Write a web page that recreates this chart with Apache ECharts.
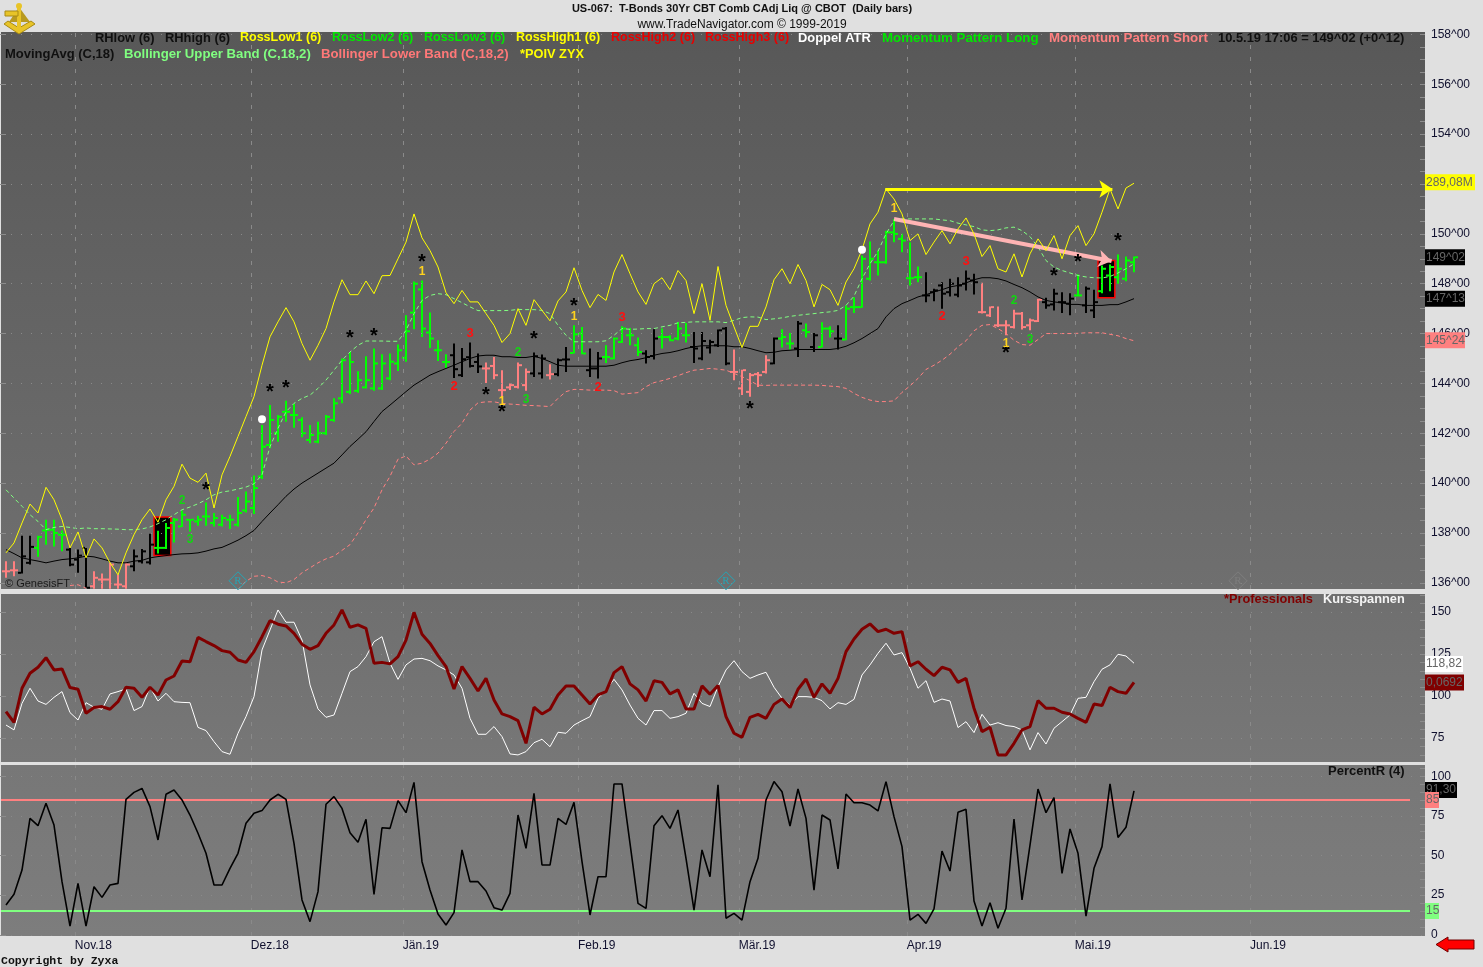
<!DOCTYPE html>
<html><head><meta charset="utf-8"><title>US-067</title>
<style>html,body{margin:0;padding:0;background:#e0e0e0;overflow:hidden}#c{width:1483px;height:967px}</style>
<script src="https://cdn.jsdelivr.net/npm/echarts@6/dist/echarts.min.js"></script></head><body><div id="c"></div>
<script>
const monthLabels=['Nov.18','Dez.18','Jän.19','Feb.19','Mär.19','Apr.19','Mai.19','Jun.19'];
const monthIdx=[8.6,30.6,49.6,71.5,91.6,112.6,133.6,155.5];
const barOpen=[136.46,136.5,136.4,136.8,137.4,138.1,138.13,137.93,137.33,136.93,
137.4,135.86,136.13,136.13,135.93,135.86,136.66,136.86,136.82,137.4,
137.4,138.4,138.26,138.53,138.46,138.66,138.4,138.33,138.53,138.33,
138.9,139.0,140.26,141.53,142.0,142.86,142.73,142.53,141.73,141.66,
142.0,142.53,143.4,143.66,143.7,143.84,143.8,143.8,144.2,144.8,
145.03,146.84,147.77,146.04,145.33,144.86,145.13,144.33,145.05,144.86,
144.6,144.7,143.73,143.84,143.86,143.93,144.4,144.4,144.33,144.37,
144.96,145.22,146.0,144.53,144.6,145.06,145.0,145.66,145.93,145.53,
145.2,145.1,145.86,145.86,145.8,145.93,145.46,145.0,145.44,145.53,
146.2,144.46,143.8,143.66,144.37,144.46,144.8,145.8,145.6,145.4,
146.13,145.46,145.46,146.2,145.8,145.76,147.06,147.06,148.2,148.86,
148.86,150.06,149.8,148.22,148.26,147.53,147.66,147.93,147.66,147.56,
148,148.13,146.86,146.73,146.33,146.33,146.26,146.8,146.33,146.5,
147.26,147.17,147.26,147.2,147.53,147.13,146.93,147.7,148.33,148.26,148.2,148.86];
const barHigh=[136.86,136.86,137.89,137.89,137.89,138.53,138.53,138.1,137.4,137.33,
137.4,136.46,136.37,136.8,136.33,136.8,137.33,137.36,137.97,138.09,
138.4,138.6,138.9,138.56,138.69,139.22,138.8,138.73,138.73,139.44,
139.66,140.3,142.33,143.13,142.73,143.3,143.17,142.64,142.33,142.46,
142.73,143.4,145.0,145.26,144.49,145.09,145.4,145.17,145.2,145.56,
146.73,148.09,148.13,146.84,145.73,145.17,145.6,145.42,145.64,145.2,
144.84,145.06,144.53,144.0,144.84,144.6,145.24,145.16,144.77,145.0,
145.46,146.33,146.26,145.4,145.26,145.53,145.84,146.29,146.22,145.84,
145.33,146.17,146.2,145.93,146.46,146.42,146.06,146.06,145.75,146.16,
146.26,145.36,144.55,144.42,144.46,145.13,145.84,146.17,146.02,146.5,
146.4,146.02,146.45,146.29,146.33,147.13,147.46,149.13,149.69,149.33,
150.13,150.6,150,149.66,148.69,148.46,147.8,148.06,148.2,148.26,
148.53,148.4,148.04,147.09,147.09,146.53,146.96,146.86,146.6,147.4,
147.44,147.8,147.66,147.62,148.37,147.89,147.76,148.73,148.77,149.17,149.09,149.09];
const barLow=[136.2,136.26,136.37,136.73,137.04,137.53,137.46,137.26,136.66,136.4,
135.8,135.76,135.76,135.76,135.76,135.76,136.46,136.77,136.73,137.17,
137.36,137.62,138.24,138.06,138.29,138.29,138.26,138.26,138.16,138.26,
138.82,138.76,140.16,141.4,141.66,142.46,142.22,141.84,141.6,141.6,
141.93,142.46,143.2,143.57,143.62,143.8,143.7,143.73,144.13,144.5,
144.87,146.17,145.86,145.42,144.9,144.62,144.22,144.26,144.64,144.42,
144.02,144.17,143.4,143.73,143.8,143.7,144.26,144.2,144.16,144.29,
144.46,145.2,145.17,144.26,144.2,144.82,144.97,145.62,145.53,145.1,
144.8,144.96,145.4,145.69,145.73,145.64,144.82,144.93,145.2,145.46,
144.73,144.13,143.53,143.46,143.86,144.4,144.77,145.44,145.36,145.06,
145.84,145.26,145.44,145.84,145.36,145.73,146.82,147.04,148.13,148.33,
148.8,149.66,149.26,147.93,148.06,147.26,147.3,147,147.49,147.46,
147.73,147.57,146.8,146.66,146.26,145.93,146.2,146.16,146.13,146.46,
147.0,146.93,146.82,146.73,147.49,146.82,146.62,147.62,147.7,148,148.1,148.46];
const barClose=[136.46,136.5,137.06,137.44,137.84,138.13,138.0,137.93,136.73,137.09,
135.8,136.2,136.13,136.73,135.93,136.73,137.06,137.26,137.53,137.4,
138.2,138.53,138.73,138.53,138.53,138.66,138.6,138.6,138.53,138.8,
139.26,139.8,141.46,142.53,142.66,142.86,142.73,142.0,141.93,142.0,
142.66,143.2,144.93,144.86,144.13,144.13,144.8,144.8,144.87,145.33,
146.09,148.0,146.2,145.8,145.33,144.86,144.57,144.97,144.7,144.68,
144.6,144.33,143.73,143.93,144.73,144.46,145.09,145.0,144.37,144.93,
144.96,145.97,145.2,144.6,145.0,145.06,145.8,146.2,145.93,145.26,
145.06,145.8,145.86,145.73,146.2,145.93,145.4,145.7,145.66,146.13,
144.8,144.46,144.53,144.33,144.33,144.93,145.8,145.86,145.6,146.4,
146.06,145.93,146.2,146.09,145.8,147.0,147.06,149.0,149.0,148.86,
150.06,150.0,149.73,148.22,148.26,147.53,147.73,147.6,148.0,147.93,
148.2,148.06,146.86,147.06,146.33,146.33,146.8,146.26,146.53,147.36,
147.13,147.6,147.26,147.4,147.53,147.8,147.26,148.6,148.67,148.6,148.93,149.06];
const barKinds=('ppkkggggkkkpppppkkk'+'ggggggggggggggggggggggggggggggggggggg'+'kkkkppppppkkpkkggkkgggggkkggggkkkkkpppppkggkgkggk'+'gggggggggg'+'kkkkkkk'+'pppppppp'+'kkkkgkkggggg').split('');
const poiv=[137.2,137.6,138.4,139.16,138.8,139.83,139.33,138.53,137.4,138.04,
137.0,137.76,137.4,136.8,136.32,137.2,137.93,138.53,138.96,138.43,
139.33,139.87,140.76,140.2,140.03,140.4,139.0,140.33,141.07,141.87,
142.67,143.47,144.73,145.87,146.47,147.04,146.47,145.6,144.93,145.53,
146.2,147.27,148.16,147.56,147.56,148.11,147.6,148.32,148.33,149.0,
149.67,150.8,149.84,149.33,148.67,147.64,147.2,147.73,147.27,147.27,
146.8,146.33,145.64,146.0,147.0,146.33,147.36,146.93,146.51,147.31,
147.67,148.64,147.73,147.04,147.57,147.33,148.47,149.17,148.4,147.67,
147.17,148.0,148.24,147.76,148.53,148.13,146.8,148.0,146.53,148.69,
147.13,146.27,145.44,146.29,146.29,147.07,148.16,148.6,148.0,148.77,
148.13,147.07,147.97,147.76,147.13,148.07,148.6,149.36,150.4,150.87,
151.8,151.4,150.8,149.73,150.0,149.17,149.67,150.13,149.6,150.2,
150.64,150.0,149.09,149.53,148.6,148.47,149.2,148.27,149.2,149.8,
149.33,149.93,149.0,149.93,150.33,149.53,150.0,150.87,151.8,151.0,151.84,152.03];
const movingAvg=[137.33,137.17,137.0,136.93,136.87,136.8,136.87,136.93,136.96,137.0,
137.07,137.04,136.96,136.87,136.8,136.8,136.87,136.9,137.0,137.05,
137.09,137.13,137.16,137.17,137.2,137.27,137.36,137.42,137.56,137.71,
137.89,138.1,138.46,138.8,139.13,139.47,139.76,140.0,140.2,140.4,
140.6,140.8,141.13,141.47,141.76,142.06,142.47,142.87,143.13,143.4,
143.67,143.93,144.13,144.33,144.47,144.6,144.73,144.87,145.0,145.1,
145.13,145.13,145.07,145.07,145.04,145.04,145.09,145.0,144.87,144.73,
144.69,144.69,144.69,144.69,144.69,144.69,144.73,144.83,144.91,144.96,
145.03,145.13,145.2,145.24,145.31,145.4,145.47,145.51,145.51,145.51,
145.51,145.47,145.47,145.4,145.31,145.23,145.25,145.31,145.33,145.36,
145.36,145.36,145.36,145.36,145.4,145.49,145.63,145.8,146.0,146.2,
146.67,147.0,147.2,147.33,147.47,147.56,147.67,147.76,147.87,147.93,
148.03,148.16,148.24,148.24,148.2,148.11,147.97,147.84,147.67,147.47,
147.33,147.27,147.23,147.17,147.17,147.13,147.13,147.13,147.16,147.16,147.27,147.4];
const bollUpper=[139.73,139.4,139.07,138.73,138.46,138.13,138.22,138.26,138.22,138.17,
138.2,138.17,138.17,138.16,138.15,138.13,138.13,138.16,138.24,138.37,
138.53,138.73,138.93,139.04,139.17,139.33,139.53,139.64,139.69,139.76,
139.84,139.97,140.33,141.46,142.2,142.86,143.2,143.4,143.53,143.8,
144.13,144.53,144.93,145.26,145.53,145.7,145.7,145.7,145.69,145.69,
146.13,146.8,147.33,147.53,147.6,147.56,147.4,147.24,147.07,146.92,
146.92,146.92,146.92,146.93,146.97,146.96,146.96,146.93,146.8,146.33,
145.93,145.67,145.67,145.67,145.67,145.71,145.93,146.2,146.17,146.18,
146.2,146.2,146.27,146.33,146.43,146.45,146.47,146.47,146.47,146.47,
146.44,146.53,146.64,146.67,146.66,146.56,146.59,146.63,146.69,146.73,
146.77,146.8,146.84,146.87,146.93,147.13,147.5,148.2,148.8,149.3,
150.0,150.53,150.6,150.6,150.6,150.6,150.6,150.56,150.53,150.43,
150.36,150.29,150.16,150.13,150.16,150.24,150.27,150.13,149.89,149.47,
148.93,148.67,148.53,148.43,148.33,148.27,148.24,148.23,148.29,148.43,148.6,148.8];
const bollLower=[null,null,null,null,null,null,null,null,135.89,135.92,
135.78,null,null,null,null,null,null,null,null,null,
null,null,null,null,null,null,null,null,null,135.73,
136.06,136.26,136.29,136.2,136.03,136.0,136.13,136.4,136.6,136.8,
136.96,137.07,137.3,137.53,138.0,138.53,139.0,139.73,140.27,140.96,
141.09,140.73,140.8,140.96,141.2,141.6,142.07,142.4,142.93,143.22,
143.26,143.26,143.2,143.17,143.15,143.12,143.11,143.09,143.07,143.4,
143.67,143.76,143.75,143.73,143.73,143.73,143.71,143.57,143.6,143.63,
143.87,144.03,144.11,144.2,144.31,144.43,144.53,144.56,144.6,144.57,
144.53,144.4,144.27,144.11,143.93,143.92,143.93,143.93,143.93,143.93,
143.93,143.93,143.92,143.89,143.87,143.8,143.6,143.44,143.33,143.27,
143.27,143.3,143.64,143.9,144.2,144.56,144.73,144.93,145.17,145.47,
145.71,146.11,146.33,146.36,146.2,146.0,145.73,145.56,145.53,145.76,
146.0,146.0,146.0,146.0,146.01,146.03,146.03,146.03,145.97,145.91,145.8,145.71];
const professionals=[90.7,84.3,104.6,113.5,117.1,122.8,115.5,116.1,105.0,104.0,
89.7,93.1,93.7,92.1,96.6,105.2,104.6,99.2,105.2,100.6,
109.5,111.9,120.8,120.4,134.9,132.4,130.0,127.0,126.0,121.4,
120.0,126.4,135.3,144.8,142.7,141.7,137.3,130.8,127.8,130.0,
137.3,142.3,151.2,140.9,142.3,140.3,119.5,120.0,119.1,123.4,
133.3,149.8,136.7,131.3,124.0,117.5,104.2,117.5,110.5,103.0,
110.5,97.6,89.3,87.7,85.3,71.8,93.3,89.3,92.1,100.6,
106.0,106.0,100.6,95.2,100.6,102.6,113.9,117.5,107.2,103.6,
97.0,109.1,108.1,101.2,103.6,92.3,92.3,106.0,101.0,106.2,
87.7,77.8,75.4,87.3,89.1,86.7,95.0,98.2,93.1,104.0,
110.1,99.2,107.2,101.6,110.5,126.4,133.9,139.7,142.9,138.3,
139.7,137.3,138.3,117.9,120.4,115.9,112.1,117.1,115.5,108.1,
110.5,92.7,78.8,81.4,64.9,64.9,71.8,79.8,81.8,97.2,
92.7,92.7,90.3,89.3,86.7,84.3,95.2,94.3,105.2,102.6,101.6,108.1];
const kursspannen=[82.7,79.8,95.6,104.6,97.0,95.0,99.2,102.6,90.1,85.7,
96.0,93.3,92.1,101.2,102.6,104.2,91.3,93.7,105.2,97.0,
101.6,96.6,96.2,96.0,81.3,79.4,72.8,66.9,65.3,77.8,
87.7,99.6,127.4,139.3,151.2,143.9,143.9,133.3,106.6,92.3,
87.3,88.7,101.6,114.5,117.5,123.4,132.3,135.3,119.5,109.9,
118.5,122.0,122.4,121.0,117.9,115.5,112.5,104.6,86.7,77.2,
77.2,81.8,75.8,65.5,64.9,66.9,72.2,74.2,69.8,78.4,
77.8,82.7,85.3,87.7,98.6,103.6,109.9,103.6,94.6,86.7,
82.7,91.3,91.3,86.7,87.7,89.7,101.6,95.6,93.7,105.6,
115.5,121.0,114.5,110.5,112.5,114.1,105.2,98.6,94.6,99.6,
99.6,99.2,97.2,92.3,96.0,95.0,98.0,112.5,118.5,125.4,
131.4,124.4,125.8,116.5,104.6,109.1,96.2,98.2,97.0,81.2,
84.7,78.2,89.1,82.7,84.1,82.4,81.8,79.8,67.9,78.2,
71.4,80.8,84.7,88.7,98.6,99.2,108.5,115.9,118.5,124.8,123.8,119.5];
const percentR=[18.8,25.5,40.8,73.4,68.8,82.9,69.2,33.5,5.5,32.4,
5.5,30.3,23.6,31.4,32.4,85.4,89.8,92.3,80.8,59.8,
88.6,91.3,85.0,75.5,64.0,51.4,31.4,31.4,41.9,51.4,
70.3,76.6,78.3,85.0,88.6,85.4,57.7,22.0,8.3,27.2,
82.3,87.1,79.7,64.4,58.3,72.8,25.5,67.5,67.1,84.6,
77.0,96.1,46.1,28.2,13.1,6.2,14.0,53.5,33.5,33.5,
27.6,17.1,15.6,26.1,75.5,54.5,89.2,44.0,44.0,73.4,
69.6,83.5,46.1,12.5,36.6,36.6,95.1,95.1,57.7,19.8,
16.7,68.8,75.1,67.1,78.7,48.2,15.6,53.5,36.6,94.5,
10.4,13.5,9.3,33.5,48.2,85.0,96.6,90.2,68.6,91.9,
73.4,28.2,75.5,72.4,41.5,88.8,83.3,83.3,81.8,78.1,
96.6,74.5,55.6,9.3,12.9,7.2,16.3,52.8,40.2,77.2,
79.1,21.3,5.5,20.2,4.1,16.7,73.0,22.0,56.6,91.9,
77.0,86.5,38.7,66.7,51.4,11.8,41.9,55.6,95.1,61.4,67.8,90.7];
const stars=[[25,139.87],[33,143.8],[35,143.96],[43,145.96],[46,146.06],[52,149.0],[60,143.66],[62,143.0],[66,145.92],[71,147.24],[93,143.11],[125,145.36],[131,148.47],[134,149.0],[139,149.84]];
const yellowOnes=[[52,148.47],[71,146.69],[111,151.0],[125,145.6],[62,143.27]];
const greenTwos=[[22,139.29],[64,145.23],[126,147.33]];
const greenThrees=[[23,137.73],[65,143.36],[128,145.77]];
const redTwos=[[56,143.89],[74,143.84],[117,146.67]];
const redThrees=[[58,146.02],[77,146.64],[120,148.89]];
const whiteDots=[[32,142.56],[107,149.36]];
const signalBoxes=[[18.5,20.6,138.64,137.09],[136.5,138.6,148.93,147.44]];
const rMarkers=[[29,136.08,'#25a5b5'],[90,136.08,'#25a5b5'],[154,136.08,'#7e7e7e']];
const yellowArrow=[[109.9,151.8],[138.3,151.8]];
const pinkArrow=[[111,150.6],[138.2,148.91]];
const levelEnd=175.5;
const priceTicks=[136,138,140,142,144,146,148,150,152,154,156,158];
const priceMinor=[];for(let k=136;k<=158;k+=0.5)priceMinor.push(k);
const profTicks=[75,100,125,150];
const profMinor=[65,70,75,80,85,90,95,100,105,110,115,120,125,130,135,140,145,150,155,160];
const pctTicks=[0,25,50,75,100];
const pctMinor=[5,10,15,20,25,30,35,40,45,50,55,60,65,70,75,80,85,90,95,100,105];
const topTags=[[152.07,'289,08M','#ffff00',50],[149.06,'149^02','#000000',40],[147.4,'147^13','#000000',40],[145.73,'145^24','#ff8080',40]];
const midTags=[[119,'118,82','#ffffff',38],[108,'0,0692','#800000',39]];
const lowTags=[[91.3,'91,30','#000000',32],[85,'85','#ff8080',14],[15,'15','#80ff80',14]];

const FONT='"Liberation Sans",Arial,sans-serif';
const LBL='#10102e';
const xMin=-0.625,xMax=177.375;
const grad=(a,b)=>new echarts.graphic.LinearGradient(0,0,0,1,[{offset:0,color:a},{offset:1,color:b}]);
const pts=a=>a.map((v,i)=>[i,v]);
const fmtPrice=v=>Math.round(v)+'^00';
const kindColor={g:'#00ff00',k:'#000000',p:'#ff8080'};

const grids=[
 {left:1,width:1424,top:32,height:557,show:true,borderWidth:0,backgroundColor:grad('#585858','#6f6f6f')},
 {left:1,width:1424,top:594,height:168,show:true,borderWidth:0,backgroundColor:grad('#6f6f6f','#777777')},
 {left:1,width:1424,top:765,height:171,show:true,borderWidth:0,backgroundColor:grad('#777777','#7d7d7d')}
];
const xAxes=[0,1,2].map(g=>({gridIndex:g,type:'value',min:xMin,max:xMax,show:g===2,
  axisLine:{show:false},axisTick:{show:false},splitLine:{show:false},
  axisLabel:{show:g===2,customValues:monthIdx,align:'left',margin:4,color:LBL,fontSize:12,fontFamily:FONT,hideOverlap:false,
    formatter:v=>{const k=monthIdx.indexOf(v);return k>=0?monthLabels[k]:''}}}));
function yPair(g,min,max,majors,minors,fmt){
  const base={gridIndex:g,type:'value',min,max,position:'right',axisLine:{show:false},splitLine:{show:false}};
  return [
   {...base,axisTick:{show:true,inside:true,length:10,customValues:majors,lineStyle:{color:'#8c8c8c'}},
    axisLabel:{show:true,customValues:majors,margin:6,color:LBL,fontSize:12,fontFamily:FONT,formatter:fmt,showMinLabel:true,showMaxLabel:true,hideOverlap:false}},
   {...base,axisTick:{show:true,inside:true,length:5,customValues:minors,lineStyle:{color:'#8c8c8c'}},axisLabel:{show:false}}
  ];
}
const yAxes=[...yPair(0,135.75,158.1,priceTicks,priceMinor,fmtPrice),
 ...yPair(1,60.7,160.7,profTicks,profMinor,v=>String(v)),
 ...yPair(2,-0.76,107.06,pctTicks,pctMinor,v=>String(v))];

function gridLines(g,yIdx,ticks,min){
  return {type:'line',xAxisIndex:g,yAxisIndex:yIdx,data:[[0,min]],symbol:'none',silent:true,z:1,lineStyle:{opacity:0},
   markLine:{silent:true,animation:false,symbol:'none',label:{show:false},precision:4,
    data:[...ticks.map(v=>({yAxis:v,lineStyle:{color:'#8a8a8a',type:[1,9],width:1}})),
          ...monthIdx.map(v=>({xAxis:v,lineStyle:{color:'#8a8a8a',type:[4,8],width:1}}))]}};
}
function textMarks(data,text,color,size,off){
  return {type:'scatter',xAxisIndex:0,yAxisIndex:0,data,symbol:'circle',symbolSize:1,z:8,silent:true,
    itemStyle:{color:'transparent',opacity:1},label:{show:true,position:'inside',formatter:text,color,opacity:1,textBorderWidth:0,fontFamily:FONT,fontWeight:'bold',fontSize:size,offset:off||[0,0]}};
}
function tagSeries(list,xi,yi){
  return {type:'custom',xAxisIndex:xi,yAxisIndex:yi,z:20,silent:true,data:list.map(t=>[xMax,t[0]]),encode:{x:0,y:1},
   renderItem(params,api){
     const t=list[params.dataIndex],p=api.coord([api.value(0),api.value(1)]);
     return {type:'group',children:[
       {type:'rect',shape:{x:p[0],y:p[1]-8,width:t[3],height:16},style:{fill:t[2]}},
       {type:'text',style:{text:t[1],x:p[0]+1,y:p[1],fill:'#666666',font:'12px '+FONT,verticalAlign:'middle',align:'left'}}]};
   }};
}
const series=[
 gridLines(0,0,priceTicks,136),gridLines(1,2,profTicks,100),gridLines(2,4,pctTicks,50),
 {type:'custom',xAxisIndex:0,yAxisIndex:0,z:2,silent:true,data:signalBoxes,encode:{x:[0,1],y:[2,3]},
  renderItem(p,api){
    const a=api.coord([api.value(0),api.value(2)]),b=api.coord([api.value(1),api.value(3)]);
    return {type:'rect',shape:{x:a[0],y:a[1],width:b[0]-a[0],height:b[1]-a[1]},style:{fill:'#000',stroke:'#ff0000',lineWidth:1.5}};
  }},
 {type:'custom',xAxisIndex:0,yAxisIndex:0,z:3,silent:true,clip:true,
  data:barOpen.map((o,i)=>[i,o,barHigh[i],barLow[i],barClose[i]]),encode:{x:0,y:[1,2,3,4]},
  renderItem(p,api){
    const i=api.value(0),col=kindColor[barKinds[p.dataIndex]];
    const x=Math.round(api.coord([i,0])[0]),o=api.coord([i,api.value(1)])[1],h=api.coord([i,api.value(2)])[1],
      l=api.coord([i,api.value(3)])[1],c=api.coord([i,api.value(4)])[1];
    return {type:'group',children:[
      {type:'rect',shape:{x:x-1,y:h,width:2,height:l-h},style:{fill:col}},
      {type:'rect',shape:{x:x-4,y:o-1,width:3,height:2},style:{fill:col}},
      {type:'rect',shape:{x:x+1,y:c-1,width:3,height:2},style:{fill:col}}]};
  }},
 {type:'line',name:'Bollinger Upper Band',xAxisIndex:0,yAxisIndex:0,data:pts(bollUpper),symbol:'none',z:4,silent:true,lineStyle:{color:'#80ff80',width:1,type:[4,3]}},
 {type:'line',name:'Bollinger Lower Band',xAxisIndex:0,yAxisIndex:0,data:pts(bollLower),symbol:'none',z:4,silent:true,lineStyle:{color:'#ff8080',width:1,type:[4,3]}},
 {type:'line',name:'MovingAvg',xAxisIndex:0,yAxisIndex:0,data:pts(movingAvg),symbol:'none',z:5,silent:true,lineStyle:{color:'#000',width:1}},
 {type:'line',name:'POIV ZYX',xAxisIndex:0,yAxisIndex:0,data:pts(poiv),symbol:'none',z:6,silent:true,lineStyle:{color:'#ffff00',width:1}},
 {type:'line',xAxisIndex:0,yAxisIndex:0,data:[yellowArrow[0]],symbol:'none',z:9,silent:true,lineStyle:{opacity:0},
  markLine:{silent:true,animation:false,symbol:['none','arrow'],symbolSize:13,label:{show:false},precision:4,
   data:[[{coord:yellowArrow[0],lineStyle:{color:'#ffff00',width:3,type:'solid'},itemStyle:{color:'#ffff00'}},{coord:yellowArrow[1]}],
         [{coord:pinkArrow[0],lineStyle:{color:'#ffb4b4',width:4,type:'solid'},itemStyle:{color:'#ffb4b4'}},{coord:pinkArrow[1]}]]}},
 {type:'scatter',xAxisIndex:0,yAxisIndex:0,data:whiteDots,symbol:'circle',symbolSize:8,z:8,silent:true,itemStyle:{color:'#ffffff',opacity:1}},
 textMarks(stars,'*','#000000',20,[0,4]),
 textMarks(yellowOnes,'1','#ffd21e',12),
 textMarks(greenTwos,'2','#10d810',12),
 textMarks(greenThrees,'3','#10d810',12),
 textMarks(redTwos,'2','#ff1010',13),
 textMarks(redThrees,'3','#ff1010',13),
 {type:'scatter',xAxisIndex:0,yAxisIndex:0,symbol:'diamond',symbolSize:18,z:7,silent:true,
  data:rMarkers.map(r=>({value:[r[0],r[1]],itemStyle:{color:'transparent',borderColor:r[2],borderWidth:1,opacity:1},
    label:{show:true,position:'inside',formatter:'R',opacity:1,fontSize:11,fontFamily:'"Liberation Serif",serif',color:r[2]}}))},
 {type:'line',name:'Kursspannen',xAxisIndex:1,yAxisIndex:2,data:pts(kursspannen),symbol:'none',z:5,silent:true,lineStyle:{color:'#ffffff',width:1}},
 {type:'line',name:'Professionals',xAxisIndex:1,yAxisIndex:2,data:pts(professionals),symbol:'none',z:6,silent:true,lineStyle:{color:'#800000',width:3}},
 {type:'line',name:'PercentR',xAxisIndex:2,yAxisIndex:4,data:pts(percentR),symbol:'none',z:6,silent:true,lineStyle:{color:'#000000',width:1.6}},
 {type:'line',xAxisIndex:2,yAxisIndex:4,data:[[xMin,85],[levelEnd,85]],symbol:'none',z:5,silent:true,lineStyle:{color:'#ff8080',width:2}},
 {type:'line',xAxisIndex:2,yAxisIndex:4,data:[[xMin,15],[levelEnd,15]],symbol:'none',z:5,silent:true,lineStyle:{color:'#80ff80',width:2}},
 tagSeries(topTags,0,0),tagSeries(midTags,1,2),tagSeries(lowTags,2,4)
];
const bold=s=>'bold '+s+'px '+FONT;
const txt=(text,x,y,fill,font,align)=>({type:'text',z:30,silent:true,style:{text,x,y,fill,font,verticalAlign:'middle',align:align||'left'}});
const legendTexts=[
 ['RHlow (6)',95,38,'#101010',12.9],['RHhigh (6)',165,38,'#101010',12.9],['RossLow1 (6)',240,38,'#ffff00',12.5],['RossLow2 (6)',332,38,'#00e800',12.5],
 ['RossLow3 (6)',424,38,'#00e800',12.5],['RossHigh1 (6)',516,38,'#ffff00',12.5],['RossHigh2 (6)',611,38,'#e80000',12.5],['RossHigh3 (6)',705,38,'#e80000',12.5],
 ['Doppel ATR',798,38,'#ffffff',12.9],['Momentum Pattern Long',882,38,'#00e800',13.3],['Momentum Pattern Short',1049,38,'#ff8080',13.3],
 ['10.5.19 17:06 = 149^02 (+0^12)',1218,38,'#101010',12.9],
 ['MovingAvg (C,18)',5,54,'#101010',13],['Bollinger Upper Band (C,18,2)',124,54,'#80ff80',13.2],['Bollinger Lower Band (C,18,2)',321,54,'#ff7878',13.2],['*POIV ZYX',520,54,'#ffff00',12.8],
 ['*Professionals',1224,599,'#800000',12.8],['Kursspannen',1323,599,'#f4f4f4',12.8],['PercentR (4)',1328,771,'#101010',13]
];
const gold='#e8c428',darkGold='#a88a14';
const graphic=[
 ...legendTexts.map(t=>txt(t[0],t[1],t[2],t[3],bold(t[4]))),
 txt('US-067:  T-Bonds 30Yr CBT Comb CAdj Liq @ CBOT  (Daily bars)',742,9,'#101010',bold(11),'center'),
 txt('www.TradeNavigator.com © 1999-2019',742,24.5,'#101010','12px '+FONT,'center'),
 txt('© GenesisFT',5,584,'#1a1a1a','11px '+FONT),
 txt('Copyright by Zyxa',1,961,'#101010','bold 11.5px "Liberation Mono",monospace'),
 {type:'polygon',z:29,silent:true,shape:{points:[[9,22],[19,7],[30,22]]},style:{fill:'#b89a20'}},
 {type:'polygon',z:29,silent:true,shape:{points:[[4,24],[19,34],[35,24],[31,21],[19,28],[8,21]]},style:{fill:gold,stroke:darkGold,lineWidth:1}},
 {type:'line',z:29,silent:true,shape:{x1:19,y1:6,x2:19,y2:31},style:{stroke:gold,lineWidth:4}},
 {type:'rect',z:29,silent:true,shape:{x:5,y:11,width:13,height:5},style:{fill:gold,stroke:darkGold,lineWidth:1}},
 {type:'circle',z:29,silent:true,shape:{cx:19,cy:6,r:3},style:{fill:gold}},
 {type:'polygon',z:29,silent:true,shape:{points:[[1436,944.5],[1448,937],[1448,940],[1474,940],[1474,949],[1448,949],[1448,952]]},style:{fill:'#ff0000',stroke:'#700000',lineWidth:1}}
];
const chart=echarts.init(document.getElementById('c'),null,{renderer:'canvas'});
chart.setOption({animation:false,backgroundColor:'#e0e0e0',tooltip:{show:false},legend:{show:false},
 grid:grids,xAxis:xAxes,yAxis:yAxes,series,graphic});
</script></body></html>
